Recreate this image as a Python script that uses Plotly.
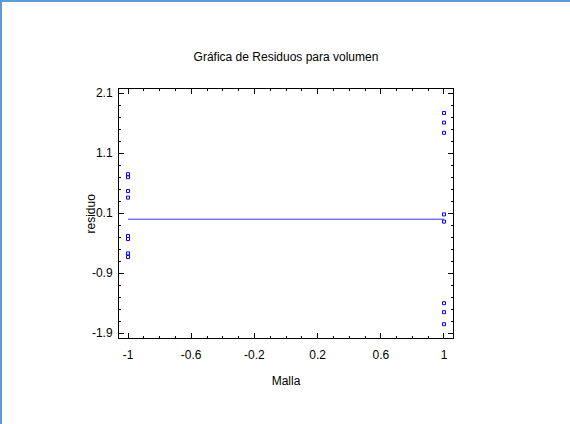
import plotly.graph_objects as go

# Data
malla_left = [-1, -1, -1, -1, -1, -1, -1, -1]
resid_left = [0.75, 0.70, 0.47, 0.36, -0.28, -0.33, -0.57, -0.63]
malla_right = [1, 1, 1, 1, 1, 1, 1, 1]
resid_right = [1.77, 1.61, 1.44, 0.08, -0.04, -1.40, -1.55, -1.75]
zero_line_x = [-1, 1]
zero_line_y = [0, 0]

x_tickvals = [-1, -0.6, -0.2, 0.2, 0.6, 1]
x_ticktext = ["-1", "-0.6", "-0.2", "0.2", "0.6", "1"]
y_tickvals = [-1.9, -0.9, 0.1, 1.1, 2.1]
y_ticktext = ["-1.9", "-0.9", "0.1", "1.1", "2.1"]

FONT = "Liberation Sans Narrow, Arial Narrow, Liberation Sans, Arial, sans-serif"

L, R, T, B = 119, 117, 89, 86
PW, PH = 570 - L - R, 424 - T - B

fig = go.Figure()
fig.add_trace(go.Scatter(x=zero_line_x, y=zero_line_y, mode="lines",
                         line=dict(color="#3333ff", width=1), hoverinfo="skip"))
fig.add_trace(go.Scatter(x=malla_left + malla_right, y=resid_left + resid_right,
                         mode="markers",
                         marker=dict(symbol="square-open", size=3, color="#0000ff",
                                     line=dict(width=1, color="#0000ff"))))

axis_common = dict(
    showgrid=False, zeroline=False, showline=True, linecolor="black", linewidth=1,
    mirror="ticks", ticks="inside", ticklen=5, tickcolor="black", tickwidth=1,
    tickfont=dict(family=FONT, size=12, color="black"),
)

fig.update_xaxes(
    **axis_common, range=[-1.057, 1.057], tickmode="array",
    tickvals=x_tickvals, ticktext=x_ticktext, ticklabelstandoff=6,
    minor=dict(ticks="inside", ticklen=2, tickcolor="black", dtick=0.1, tick0=-1, showgrid=False),
    title=dict(text="Malla", font=dict(family=FONT, size=12, color="black"), standoff=15),
)
fig.update_yaxes(
    **axis_common, range=[-1.98, 2.17], tickmode="array",
    tickvals=y_tickvals, ticktext=y_ticktext, ticklabelstandoff=3,
    minor=dict(ticks="inside", ticklen=2, tickcolor="black", dtick=0.2, tick0=0.1, showgrid=False),
)

fig.update_layout(
    width=570, height=424,
    margin=dict(l=L, r=R, t=T, b=B, autoexpand=False),
    paper_bgcolor="white", plot_bgcolor="white",
    showlegend=False,
    title=dict(text="Gráfica de Residuos para volumen", x=(119 + 453) / 2 / 570,
               xanchor="center", y=1 - 57 / 424, yanchor="middle",
               font=dict(family=FONT, size=12, color="black")),
    annotations=[
        dict(text="residuo", xref="paper", yref="paper", x=(90 - L) / PW, y=0.5,
             xanchor="center", yanchor="middle", textangle=-90, showarrow=False,
             font=dict(family=FONT, size=12, color="black")),
    ],
    shapes=[
        dict(type="line", xref="paper", yref="paper", x0=-L / PW, x1=(570 - L) / PW,
             y0=1 + (T - 1) / PH, y1=1 + (T - 1) / PH, line=dict(color="#5b9bd5", width=2)),
        dict(type="line", xref="paper", yref="paper", x0=-(L - 1) / PW, x1=-(L - 1) / PW,
             y0=-B / PH, y1=1 + T / PH, line=dict(color="#5b9bd5", width=2)),
    ],
)

fig.write_html("out.html", config={"displayModeBar": False},
               post_script="document.body.style.margin='0';document.body.style.padding='0';")
